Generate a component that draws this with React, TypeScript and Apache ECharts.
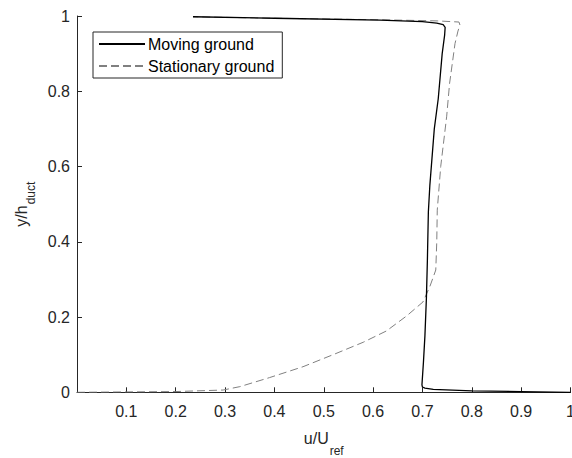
import React, { useEffect, useRef } from "react";
import * as echarts from "echarts";

const xTicks = [0, 0.1, 0.2, 0.3, 0.4, 0.5, 0.6, 0.7, 0.8, 0.9, 1];
const yTicks = [0, 0.2, 0.4, 0.6, 0.8, 1];

const movingX = [0.235, 0.4, 0.614, 0.7, 0.729, 0.742, 0.746, 0.745, 0.74, 0.732, 0.724, 0.715, 0.712, 0.71, 0.708, 0.705, 0.702, 0.699, 0.7, 0.705, 0.722, 0.8, 0.9, 1.0];
const movingY = [0.998, 0.994, 0.989, 0.985, 0.981, 0.977, 0.97, 0.95, 0.9, 0.78, 0.7, 0.55, 0.48, 0.35, 0.25, 0.15, 0.08, 0.02, 0.014, 0.011, 0.008, 0.004, 0.002, 0.0];

const stationaryX = [0, 0.1, 0.2, 0.296, 0.33, 0.39, 0.458, 0.519, 0.58, 0.627, 0.668, 0.701, 0.715, 0.727, 0.729, 0.73, 0.737, 0.749, 0.755, 0.766, 0.772, 0.776, 0.774, 0.73, 0.614, 0.4, 0.235];
const stationaryY = [0, 0.001, 0.002, 0.006, 0.015, 0.039, 0.068, 0.1, 0.133, 0.163, 0.203, 0.24, 0.281, 0.325, 0.4, 0.484, 0.6, 0.732, 0.821, 0.927, 0.96, 0.976, 0.984, 0.987, 0.99, 0.994, 0.998];

const seriesNames = ["Moving ground", "Stationary ground"];

const FONT = "'Liberation Sans', Arial, Helvetica, sans-serif";
const AXIS_COLOR = "#262626";

const fmt = (v: number) => {
  const r = Math.round(v * 10) / 10;
  return String(r);
};

export default function App() {
  const ref = useRef<HTMLDivElement>(null);
  useEffect(() => {
    if (!ref.current) return;
    const chart = echarts.init(ref.current, null, { renderer: "svg" });
    const pair = (xs: number[], ys: number[]) => xs.map((x, i) => [x, ys[i]]);
    const richX = {
      a: { fontSize: 16, color: AXIS_COLOR, fontFamily: FONT, verticalAlign: "top" },
      b: { fontSize: 12, color: AXIS_COLOR, fontFamily: FONT, verticalAlign: "bottom", padding: [15, 0, 0, 1] },
    };
    const richY = {
      a: { fontSize: 16, color: AXIS_COLOR, fontFamily: FONT, verticalAlign: "top" },
      b: { fontSize: 12, color: AXIS_COLOR, fontFamily: FONT, verticalAlign: "bottom", padding: [11, 0, 0, 1] },
    };
    chart.setOption({
      animation: false,
      backgroundColor: "#fff",
      textStyle: { fontFamily: FONT },
      grid: { left: 77, right: 1.5, top: 16, bottom: 65.7, containLabel: false, outerBoundsMode: "none" },
      legend: {
        orient: "vertical",
        left: 93,
        top: 32,
        padding: [4, 8, 4, 5],
        itemGap: 6,
        itemWidth: 46,
        itemHeight: 16,
        borderColor: AXIS_COLOR,
        borderWidth: 1,
        backgroundColor: "#fff",
        itemStyle: { opacity: 0 },
        textStyle: { fontSize: 16, color: "#000", fontFamily: FONT, padding: [0, 0, 0, -2] },
        data: seriesNames,
      },
      xAxis: {
        type: "value",
        min: xTicks[0],
        max: xTicks[xTicks.length - 1],
        interval: 0.1,
        splitLine: { show: false },
        axisLine: { show: true, lineStyle: { color: AXIS_COLOR, width: 1 } },
        axisTick: { show: true, inside: true, length: 5, lineStyle: { color: AXIS_COLOR } },
        axisLabel: {
          fontSize: 16,
          color: AXIS_COLOR,
          margin: 11,
          fontFamily: FONT,
          formatter: (v: number) => (Math.abs(v) < 1e-9 ? "" : fmt(v)),
        },
        name: "{a|u/U}{b|ref}",
        nameLocation: "middle",
        nameGap: 38,
        nameTextStyle: { rich: richX },
      },
      yAxis: {
        type: "value",
        min: yTicks[0],
        max: yTicks[yTicks.length - 1],
        interval: 0.2,
        splitLine: { show: false },
        axisLine: { show: true, lineStyle: { color: AXIS_COLOR, width: 1 } },
        axisTick: { show: true, inside: true, length: 5, lineStyle: { color: AXIS_COLOR } },
        axisLabel: { fontSize: 16, color: AXIS_COLOR, margin: 7, fontFamily: FONT, formatter: (v: number) => fmt(v) },
        name: "{a|y/h}{b|duct}",
        nameLocation: "middle",
        nameRotate: 90,
        nameGap: 37,
        nameTextStyle: { rich: richY },
      },
      series: [
        {
          name: seriesNames[0],
          type: "line",
          symbol: "none",
          showSymbol: false,
          smooth: false,
          lineStyle: { color: "#000", width: 1.3, type: "solid" },
          itemStyle: { color: "#000" },
          data: pair(movingX, movingY),
          z: 3,
        },
        {
          name: seriesNames[1],
          type: "line",
          symbol: "none",
          showSymbol: false,
          smooth: false,
          lineStyle: { color: "#808080", width: 1, type: [8, 4] },
          itemStyle: { color: "#808080" },
          data: pair(stationaryX, stationaryY),
          z: 2,
        },
      ],
    });
    return () => chart.dispose();
  }, []);
  return <div ref={ref} style={{ position: "fixed", left: 0, top: 0, width: 572, height: 458 }} />;
}
